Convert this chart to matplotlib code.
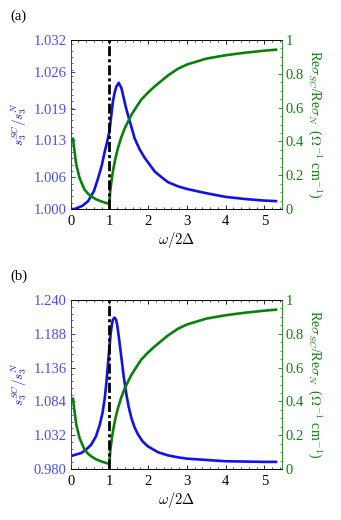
import numpy as np
import matplotlib
matplotlib.use("Agg")
import matplotlib.pyplot as plt
from matplotlib.ticker import AutoMinorLocator

plt.rcParams['font.family'] = ['Liberation Serif', 'DejaVu Serif']
plt.rcParams['mathtext.fontset'] = 'cm'

# blue curve, panel (a): s3^SC / s3^N
xa_blue = [0.05, 0.10, 0.30, 0.45, 0.60, 0.71, 0.80, 0.88, 0.95, 1.00, 1.05,
           1.09, 1.14, 1.18, 1.24, 1.31, 1.37, 1.44, 1.55, 1.65, 1.78, 1.91,
           2.05, 2.17, 2.35, 2.51, 2.77, 3.0, 3.5, 4.0, 4.5, 5.0, 5.3]
ya_blue = [1.0000, 1.0000, 1.0006, 1.0015, 1.0034, 1.0059, 1.0082, 1.0109,
           1.0130, 1.0147, 1.0178, 1.0204, 1.0222, 1.0232, 1.0239, 1.0229,
           1.0210, 1.0188, 1.0160, 1.0134, 1.0113, 1.0097, 1.0083, 1.0071,
           1.0060, 1.0051, 1.0043, 1.0038, 1.0030, 1.0023, 1.0019, 1.0016,
           1.0015]

# blue curve, panel (b)
xb_blue = [0.06, 0.27, 0.40, 0.53, 0.65, 0.75, 0.82, 0.88, 0.92, 0.96, 1.00,
           1.03, 1.06, 1.09, 1.13, 1.17, 1.20, 1.25, 1.31, 1.37, 1.44, 1.50,
           1.57, 1.65, 1.74, 1.85, 1.99, 2.25, 2.51, 2.77, 3.0, 3.5, 4.0, 4.5,
           5.0, 5.3]
yb_blue = [1.001, 1.0046, 1.010, 1.0175, 1.030, 1.048, 1.066, 1.089, 1.112,
           1.140, 1.168, 1.187, 1.201, 1.210, 1.213, 1.210, 1.202, 1.180,
           1.151, 1.122, 1.094, 1.075, 1.058, 1.044, 1.033, 1.023, 1.015,
           1.006, 1.001, 0.998, 0.996, 0.994, 0.992, 0.9915, 0.991, 0.991]

# green curve (same in both panels): Re sigma_SC / Re sigma_N
x_green = [0.06, 0.08, 0.10, 0.145, 0.23, 0.30, 0.36, 0.45, 0.53, 0.65, 0.79,
           0.90, 0.98, 0.995, 1.01, 1.03, 1.06, 1.09, 1.15, 1.22, 1.30, 1.40,
           1.57, 1.70, 1.82, 2.00, 2.17, 2.35, 2.51, 2.77, 3.0, 3.5, 4.0, 4.5,
           5.0, 5.3]
y_green = [0.416, 0.375, 0.340, 0.262, 0.183, 0.145, 0.114, 0.090, 0.075,
           0.058, 0.045, 0.037, 0.032, 0.030, 0.075, 0.124, 0.175, 0.223,
           0.295, 0.360, 0.420, 0.480, 0.558, 0.605, 0.647, 0.690, 0.726,
           0.760, 0.790, 0.830, 0.855, 0.890, 0.910, 0.925, 0.937, 0.943]

panels = [
    ("(a)", xa_blue, ya_blue, [1.000, 1.006, 1.013, 1.019, 1.026, 1.032],
     (1.000, 1.032), 0.923),
    ("(b)", xb_blue, yb_blue, [0.980, 1.032, 1.084, 1.136, 1.188, 1.240],
     (0.980, 1.240), 0.423),
]

blue = '#1010f0'
green = '#0a800a'
fs = 10.5

fig = plt.figure(figsize=(3.41, 5.20), dpi=100)
for tag, xb, yb, yticks, ylim, top in panels:
    ax = fig.add_axes([0.2073, top - 0.325, 0.619, 0.325])
    ax.plot(xb, yb, color=blue, lw=1.9)
    ax.set_xlim(0, 5.45)
    ax.set_ylim(*ylim)
    ax.set_yticks(yticks)
    ax.set_yticklabels([f"{t:.3f}" for t in yticks])
    ax.set_xticks([0, 1, 2, 3, 4, 5])
    ax.xaxis.set_minor_locator(AutoMinorLocator(5))
    ax.yaxis.set_minor_locator(AutoMinorLocator(5))
    ax.tick_params(axis='x', which='both', direction='in', top=True, labelsize=fs)
    ax.tick_params(axis='x', which='major', length=3, width=0.6, pad=4)
    ax.tick_params(axis='x', which='minor', length=1.5, width=0.5)
    ax.tick_params(axis='y', which='both', direction='in', colors=blue, labelsize=fs)
    ax.tick_params(axis='y', which='major', length=3, width=0.6, pad=3)
    ax.tick_params(axis='y', which='minor', length=1.5, width=0.5)
    for t in ax.get_yticklabels():
        t.set_color('#4a4aff')
    ax.spines['left'].set_color(blue)
    ax.spines['right'].set_visible(False)
    for s in ax.spines.values():
        s.set_linewidth(0.6)
    ax.set_xlabel(r'$\omega/2\Delta$', fontsize=fs, labelpad=2)
    ax.set_ylabel(r'$s_3^{SC}/s_3^{N}$', color=blue, fontsize=9.5, labelpad=3)

    ax2 = ax.twinx()
    ax2.plot(x_green, y_green, color=green, lw=1.9)
    ax2.axvline(1.0, color='black', lw=2.0, dashes=(3.6, 1.1, 1.1, 1.1))
    ax2.set_ylim(0, 1)
    ax2.set_yticks([0, 0.2, 0.4, 0.6, 0.8, 1])
    ax2.set_yticklabels(['0', '0.2', '0.4', '0.6', '0.8', '1'])
    ax2.yaxis.set_minor_locator(AutoMinorLocator(4))
    ax2.tick_params(axis='y', which='both', direction='in', colors=green, labelsize=fs)
    ax2.tick_params(axis='y', which='major', length=3, width=0.6, pad=3)
    ax2.tick_params(axis='y', which='minor', length=1.5, width=0.5)
    ax2.spines['right'].set_color(green)
    ax2.spines['left'].set_visible(False)
    for s in ax2.spines.values():
        s.set_linewidth(0.6)
    ax2.set_ylabel(r'Re$\sigma_{SC}$/Re$\sigma_N$  ($\Omega^{-1}$ cm$^{-1}$)',
                   color=green, fontsize=10, rotation=270, labelpad=14)
    fig.text(0.03, top + 0.045, tag, fontsize=fs, va='center')

fig.savefig('out.png', dpi=100)
